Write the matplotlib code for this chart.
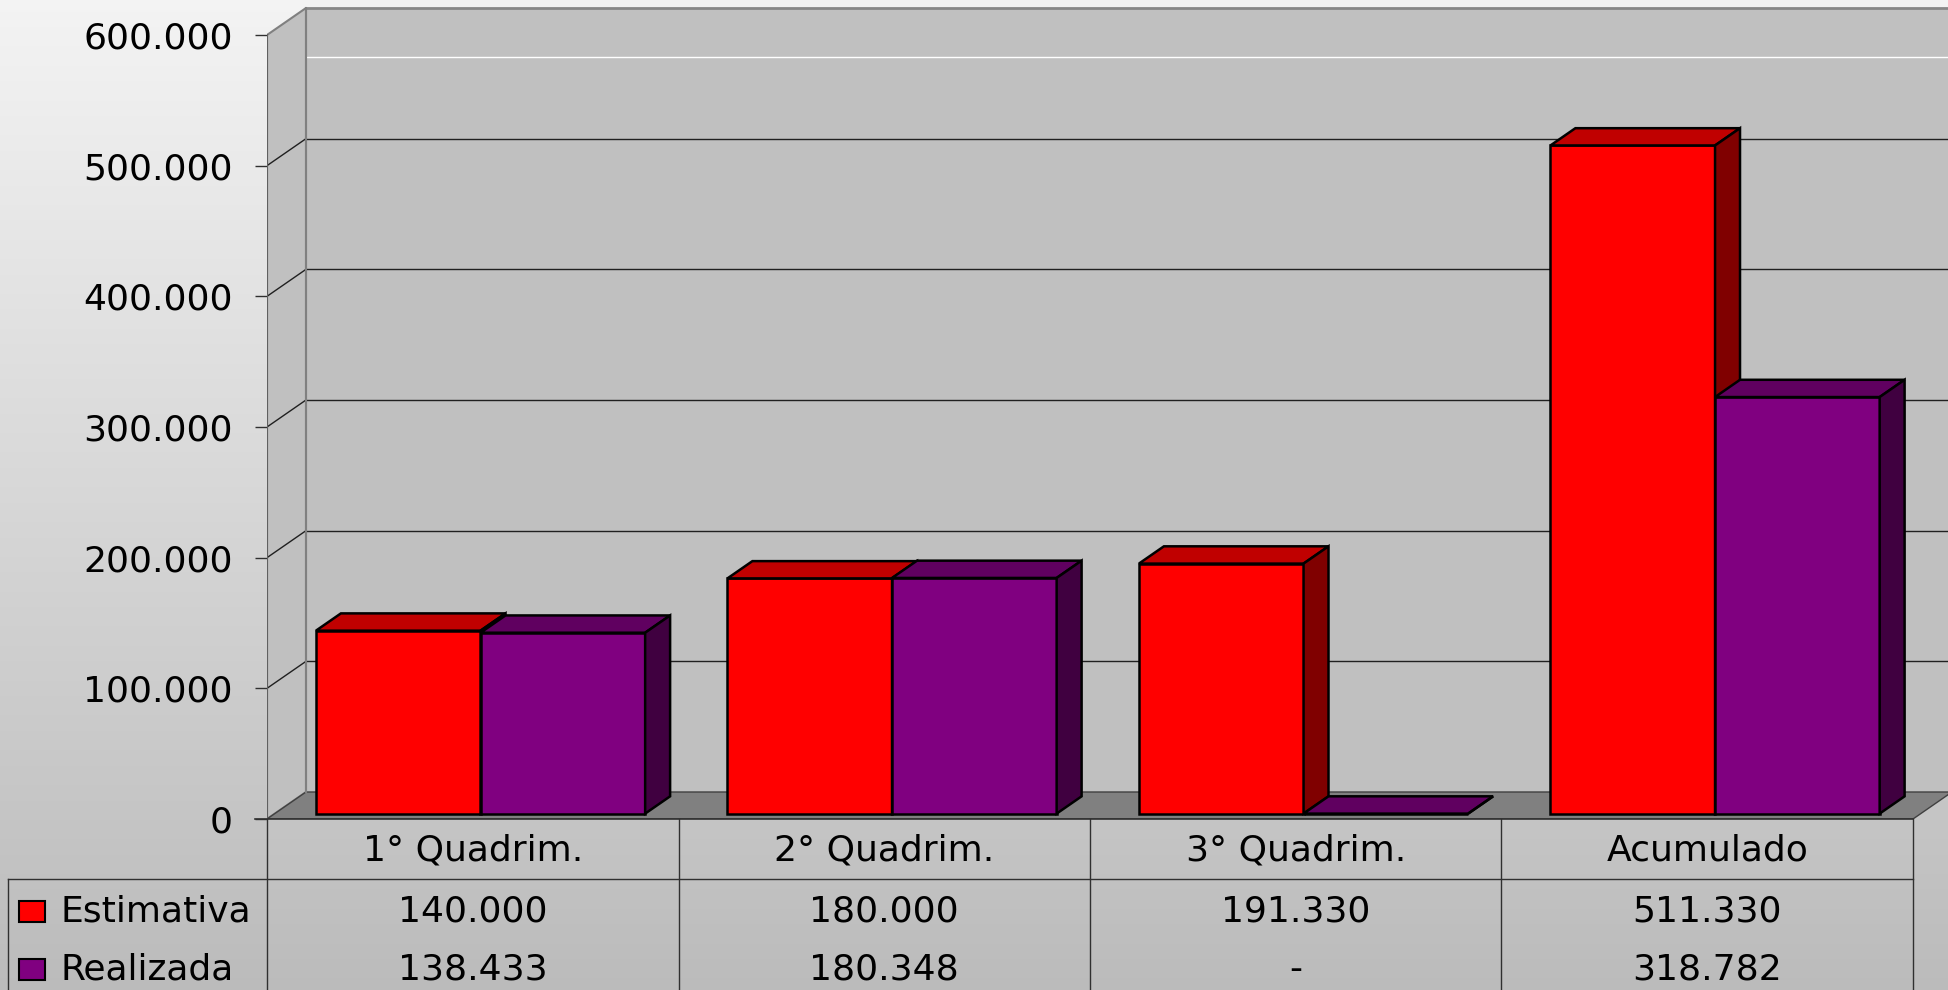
import numpy as np
import matplotlib.pyplot as plt
from matplotlib.patches import Polygon, Rectangle

# data
categorias = ['1° Quadrim.', '2° Quadrim.', '3° Quadrim.', 'Acumulado']
estimativa = [140000, 180000, 191330, 511330]
realizada = [138433, 180348, 0, 318782]
series_nomes = ['Estimativa', 'Realizada']
y_ticks = [0, 100000, 200000, 300000, 400000, 500000, 600000]

# colours per series: front, top, side
cores = [('#ff0000', '#c00000', '#800000'),
         ('#800080', '#600060', '#400040')]


def fmt(v):
    # brazilian thousand separator, zero shown as a dash
    if v == 0:
        return '-'
    return f'{v:,}'.replace(',', '.')


# figure geometry (pixels)
W, H = 1948, 990
left_px, floor_px = 267, 819
col_px = 411.5
px_per_val = 784 / 600000
font = 'DejaVu Sans'
fs = 26

fig = plt.figure(figsize=(W / 100, H / 100), dpi=100)

# background gradient
bg = fig.add_axes([0, 0, 1, 1], zorder=-10)
grad = np.linspace(0.955, 0.735, 256).reshape(-1, 1)
bg.imshow(np.dstack([grad] * 3), aspect='auto', extent=[0, 1, 0, 1])
bg.axis('off')

# main axes, front plane: x = category column, y = value
ax = fig.add_axes([left_px / W, (H - floor_px) / H,
                   (W - left_px) / W, floor_px / H])
ax.set_xlim(0, (W - left_px) / col_px)
ax.set_ylim(0, floor_px / px_per_val)
ax.patch.set_visible(False)
for s in ax.spines.values():
    s.set_visible(False)

n = len(categorias)
top = y_ticks[-1]
DX = 39 / col_px          # depth of the walls
DY = 27 / px_per_val
xr = n + DX

# back wall
ax.add_patch(Polygon([(DX, DY), (xr, DY), (xr, top + DY), (DX, top + DY)],
                     closed=True, facecolor='#c0c0c0', edgecolor='none', zorder=1))
# side wall
ax.add_patch(Polygon([(0, 0), (DX, DY), (DX, top + DY), (0, top)],
                     closed=True, facecolor='#c0c0c0', edgecolor='#808080',
                     linewidth=1.5, zorder=1))
# floor
ax.add_patch(Polygon([(0, 0), (n, 0), (n + DX, DY), (DX, DY)],
                     closed=True, facecolor='#808080', edgecolor='#404040',
                     linewidth=1, zorder=1))

# gridlines on the walls
for v in y_ticks[1:-1]:
    ax.plot([DX, xr], [v + DY, v + DY], color='#202020', lw=1, zorder=1.5)
    ax.plot([0, DX], [v, v + DY], color='#202020', lw=1, zorder=1.5)
ax.plot([DX, xr], [top * 0.972, top * 0.972], color='white', lw=1, zorder=1.5)
ax.plot([DX, xr], [top + DY, top + DY], color='#888888', lw=2, zorder=1.6)
ax.plot([DX, DX], [DY, top + DY], color='#808080', lw=1.5, zorder=1.6)
ax.plot([0, 0], [0, top], color='#606060', lw=1.5, zorder=1.6)

# y ticks
ax.set_xticks([])
ax.set_yticks(y_ticks)
ax.set_yticklabels([fmt(v) if v else '0' for v in y_ticks],
                   fontsize=fs, family=font)
ax.tick_params(axis='y', length=8.6, width=1, color='#303030', pad=16)

# 3D bars
bw = 0.4
d0 = 0.2             # bars start a bit behind the front plane
dd = 0.64            # bar depth as fraction of wall depth
bx, by = d0 * DX, d0 * DY
ddx, ddy = dd * DX, dd * DY
for k, vals in enumerate([estimativa, realizada]):
    front, topc, side = cores[k]
    xs = np.arange(n) + 0.1 + k * bw + bx
    ax.bar(xs, vals, width=bw, bottom=by, align='edge', color=front,
           edgecolor='black', linewidth=1.8, zorder=3 + k)
    for x0, v in zip(xs, vals):
        x1 = x0 + bw
        yt = v + by
        ax.add_patch(Polygon([(x0, yt), (x1, yt), (x1 + ddx, yt + ddy),
                              (x0 + ddx, yt + ddy)], closed=True,
                             facecolor=topc, edgecolor='black',
                             linewidth=1.8, zorder=3 + k))
        ax.add_patch(Polygon([(x1, by), (x1, yt), (x1 + ddx, yt + ddy),
                              (x1 + ddx, by + ddy)], closed=True,
                             facecolor=side, edgecolor='black',
                             linewidth=1.8, zorder=3 + k))

# data table below the chart
tax = fig.add_axes([0, 0, 1, (H - floor_px) / H])
tax.set_xlim(-left_px / col_px, (W - left_px) / col_px)
tax.set_ylim(H, floor_px)
tax.axis('off')

line_c = '#303030'
x_leg = (8 - left_px) / col_px
tax.plot([-12 / col_px, n], [floor_px, floor_px], color=line_c, lw=1.2,
         clip_on=False)
for i in range(n + 1):
    tax.plot([i, i], [floor_px, H], color=line_c, lw=1, clip_on=False)
tax.plot([x_leg, n], [879, 879], color=line_c, lw=1)
tax.plot([x_leg, x_leg], [879, H], color=line_c, lw=1, clip_on=False)

row_y = [911, 969]
for i, cat in enumerate(categorias):
    tax.text(i + 0.5, 850, cat, ha='center', va='center', fontsize=fs,
             family=font)
    for r, vals in enumerate([estimativa, realizada]):
        tax.text(i + 0.5, row_y[r], fmt(vals[i]), ha='center', va='center',
                 fontsize=fs, family=font)

for r, nome in enumerate(series_nomes):
    tax.add_patch(Rectangle(((19 - left_px) / col_px, row_y[r] - 10.5),
                            26 / col_px, 21, facecolor=cores[r][0],
                            edgecolor='black', linewidth=1.5))
    tax.text((60 - left_px) / col_px, row_y[r], nome, ha='left', va='center',
             fontsize=fs, family=font)

fig.savefig('out.png', dpi=100)
